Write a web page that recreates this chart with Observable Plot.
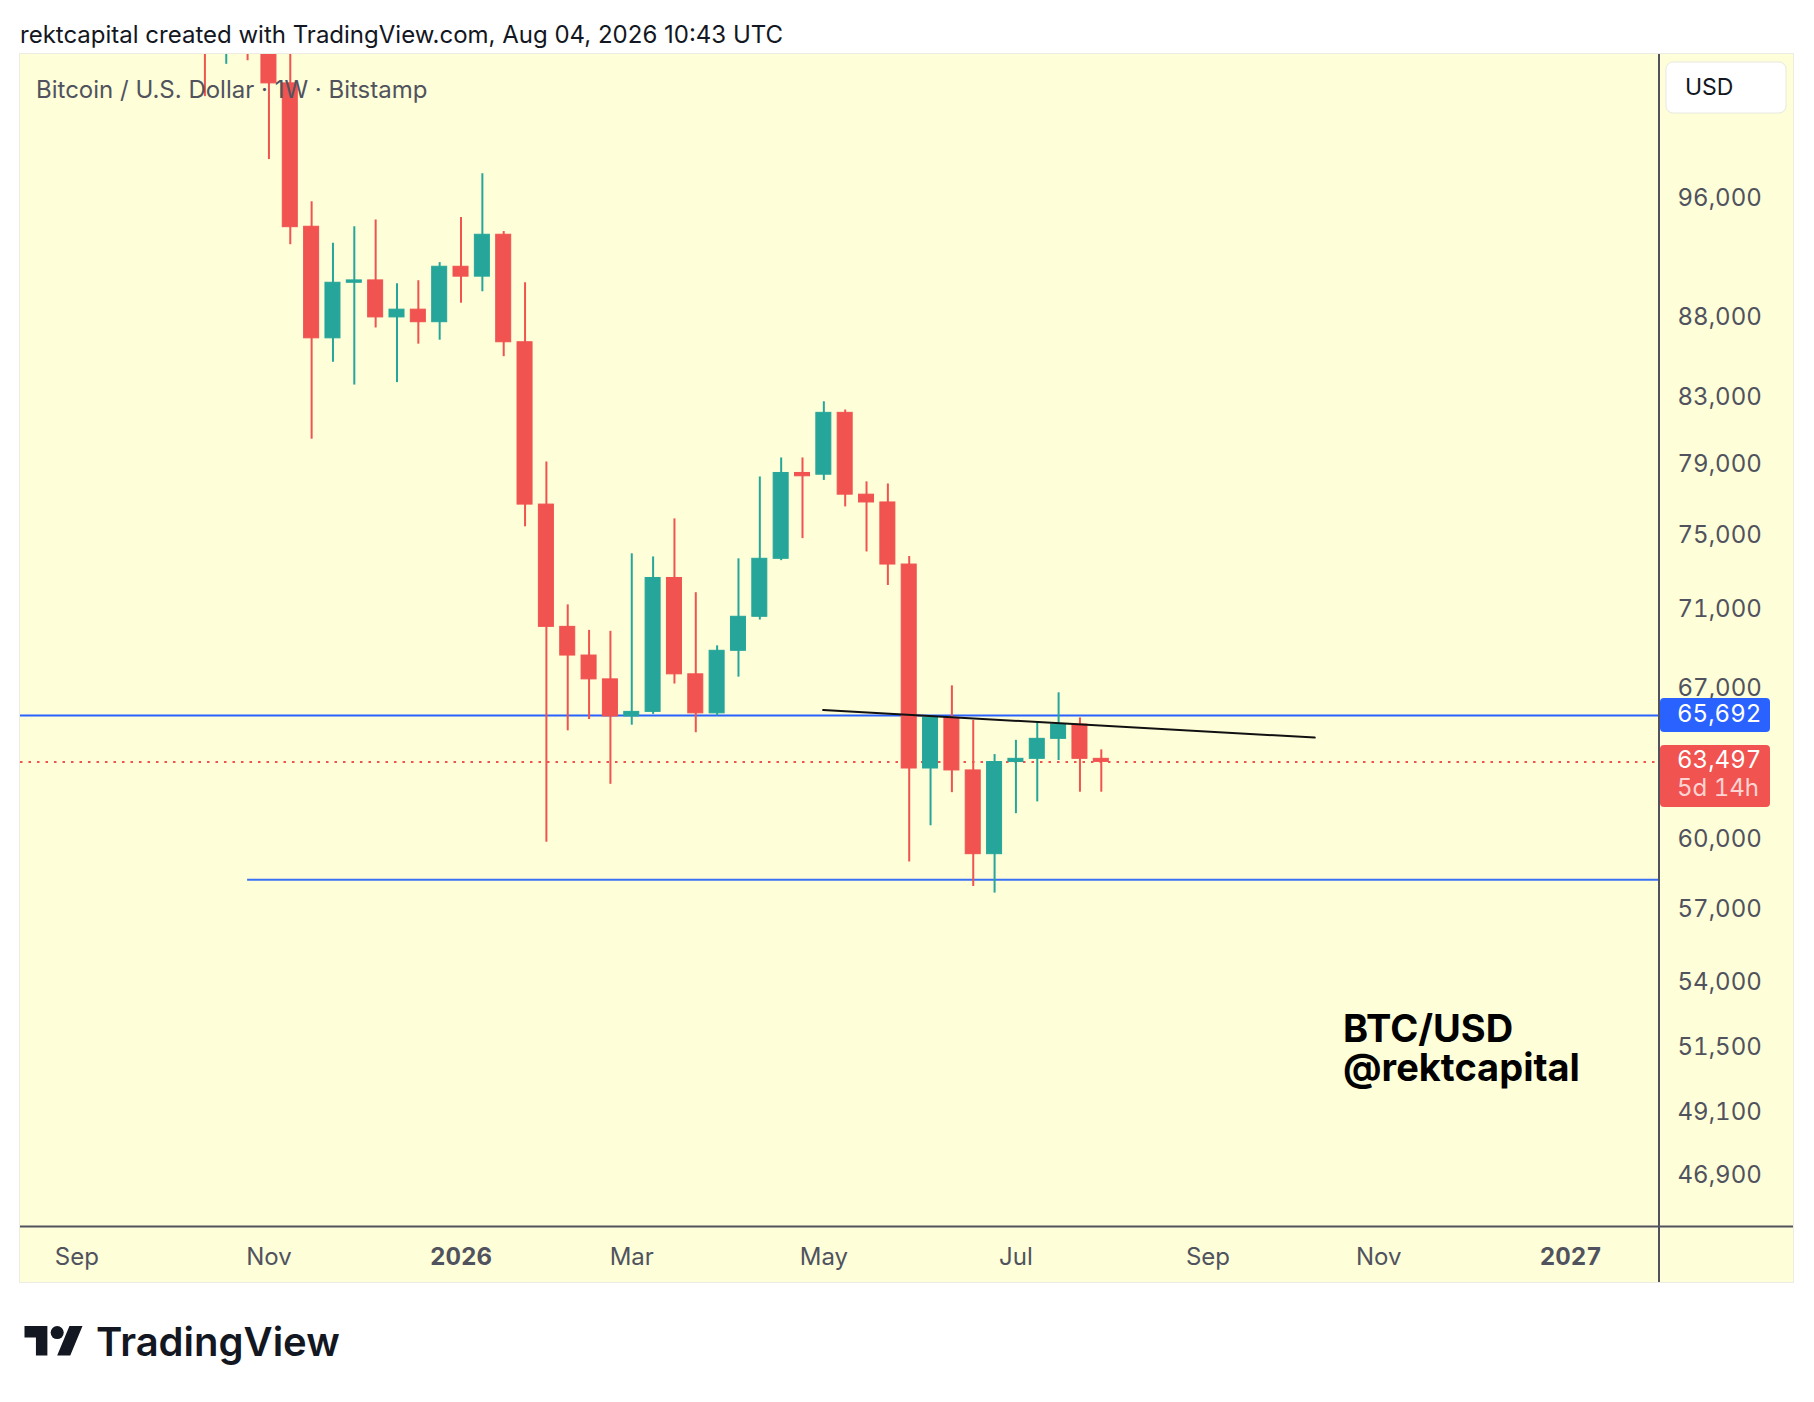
<!DOCTYPE html>
<html>
<head>
<meta charset="utf-8">
<script src="https://cdn.jsdelivr.net/npm/d3@7"></script>
<script src="https://cdn.jsdelivr.net/npm/@observablehq/plot@0.6"></script>
<style>
html, body { margin: 0; padding: 0; background: #ffffff; }
#root { position: relative; width: 1814px; height: 1402px; overflow: hidden; font-family: Inter, "Noto Sans", sans-serif; }
#bg { position: absolute; left: 20px; top: 54px; width: 1773px; height: 1228px; background: #FEFED9; box-shadow: 0 0 0 1px #ECECE4; }
#chart { position: absolute; left: 0; top: 0; }
#overlay { position: absolute; left: 0; top: 0; }
</style>
</head>
<body>
<div id="root">
  <div id="bg"></div>
  <div id="chart"></div>
  <svg id="overlay" width="1814" height="1402"></svg>
</div>
<script>
// ---- Weekly candles (BTC/USD, Bitstamp, 1W) ----
const weeks = [
  "2025-10-13","2025-10-20","2025-10-27","2025-11-03","2025-11-10","2025-11-17","2025-11-24",
  "2025-12-01","2025-12-08","2025-12-15","2025-12-22","2025-12-29","2026-01-05","2026-01-12",
  "2026-01-19","2026-01-26","2026-02-02","2026-02-09","2026-02-16","2026-02-23","2026-03-02",
  "2026-03-09","2026-03-16","2026-03-23","2026-03-30","2026-04-06","2026-04-13","2026-04-20",
  "2026-04-27","2026-05-04","2026-05-11","2026-05-18","2026-05-25","2026-06-01","2026-06-08",
  "2026-06-15","2026-06-22","2026-06-29","2026-07-06","2026-07-13","2026-07-20","2026-07-27",
  "2026-08-03"
];
const opens = [
  115000,108600,114500,110500,104460,94030,86640,
  90245,90400,87980,88480,87670,91310,90650,
  93480,86390,76690,70110,68650,67460,65650,
  65870,72670,67710,65800,68890,70630,73700,
  78490,78390,82030,77250,76810,73390,63190,
  65580,63100,59340,63490,63640,64580,65260,
  63640
];
const highs = [
  115900,115400,116400,110900,107400,95770,92900,
  94030,94500,90180,90380,91590,94670,97760,
  93700,90245,79130,71250,69930,69880,73970,
  73800,75890,71890,69140,73700,78260,79360,
  79360,82700,82200,77980,77860,73820,65640,
  67140,65460,63840,64510,65380,66800,65580,
  64060
];
const lows = [
  103450,105930,106210,98780,92800,80460,85130,
  83720,87300,83870,86270,86520,88900,89650,
  85480,75450,59860,64960,65500,62460,65230,
  65750,67230,64870,65670,67570,70460,73600,
  74800,78060,76560,74070,72270,59000,60590,
  62080,57950,57670,61130,61660,63560,62100,
  62100
];
const closes = [
  108600,114500,110500,104460,94000,86640,90245,
  90400,87980,88480,87670,91310,90650,93480,
  86390,76690,70110,68650,67460,65650,65870,
  72670,67710,65800,68890,70630,73700,78490,
  78300,82030,77250,76810,73390,63190,65580,
  63100,59340,63490,63640,64580,65260,63640,
  63497
];

// ---- Price axis ticks ----
const priceTicks = [96000, 88000, 83000, 79000, 75000, 71000, 67000, 60000, 57000, 54000, 51500, 49100, 46900];

// ---- Time axis ticks ----
const monthTickDates = ["2025-09-01","2025-11-03","2026-03-02","2026-05-04","2026-07-06","2026-09-07","2026-11-02"];
const monthTickLabels = ["Sep","Nov","Mar","May","Jul","Sep","Nov"];
const yearTickDates = ["2026-01-05","2027-01-04"];
const yearTickLabels = ["2026","2027"];

// ---- Drawn levels ----
const resistanceLevel = 65692;
const supportLevel = 58240;
const supportStart = "2025-10-27";
const lastPrice = 63497;
const lastPriceLabel = "63,497";
const countdownLabel = "5d 14h";
const resistanceLabel = "65,692";
const trendDates = ["2026-05-03T18:00", "2026-10-12T00:00"];
const trendPrices = [65960, 64640];

// ---- Visible ranges ----
const xDomain = [new Date(Date.UTC(2025, 7, 13, 12, 23)), new Date(Date.UTC(2027, 1, 2, 2, 0))];
const yDomain = [45156, 106697];

const parse = s => new Date(s.length > 10 ? s + "Z" : s + "T00:00Z");
const TEAL = "#26A69A", RED = "#F05350", BLUE = "#2962FF", BLUE2 = "#3A70F5", AXIS = "#50535E";

const candles = weeks.map((w, i) => ({
  date: parse(w), open: opens[i], high: highs[i], low: lows[i], close: closes[i],
  color: closes[i] >= opens[i] ? TEAL : RED
}));
const trend = trendDates.map((d, i) => ({date: parse(d), price: trendPrices[i]}));
const halfBody = 2.46 * 24 * 3600 * 1000;

const monthMap = new Map(monthTickDates.map((d, i) => [+parse(d), monthTickLabels[i]]));
const yearMap = new Map(yearTickDates.map((d, i) => [+parse(d), yearTickLabels[i]]));

const plot = Plot.plot({
  width: 1814,
  height: 1402,
  marginLeft: 20,
  marginRight: 155,
  marginTop: 54,
  marginBottom: 176,
  style: {background: "transparent", fontFamily: "Inter, 'Noto Sans', sans-serif", fontSize: "24px", overflow: "visible"},
  x: {type: "utc", domain: xDomain, axis: null},
  y: {type: "log", domain: yDomain, axis: null},
  color: {type: "identity"},
  marks: [
    Plot.ruleY([resistanceLevel], {stroke: BLUE, strokeWidth: 2}),
    Plot.ruleY([supportLevel], {x1: parse(supportStart), x2: xDomain[1], stroke: BLUE2, strokeWidth: 2}),
    Plot.ruleY([lastPrice], {stroke: RED, strokeWidth: 2, strokeDasharray: "2.5,6"}),
    Plot.ruleX(candles, {x: "date", y1: "low", y2: "high", stroke: "color", strokeWidth: 2, clip: true}),
    Plot.rect(candles, {
      x1: d => new Date(+d.date - halfBody), x2: d => new Date(+d.date + halfBody),
      y1: "open", y2: "close", fill: "color", stroke: "color", strokeWidth: 1, clip: true
    }),
    Plot.line(trend, {x: "date", y: "price", stroke: "#111111", strokeWidth: 2}),
    Plot.axisY({anchor: "right", ticks: priceTicks, tickSize: 0, tickPadding: 18, label: null,
      tickFormat: d3.format(","), fontSize: 24, color: AXIS}),
    Plot.axisX({anchor: "bottom", ticks: monthTickDates.map(parse), tickSize: 0, tickPadding: 21, label: null,
      tickFormat: d => monthMap.get(+d), fontSize: 24, color: AXIS}),
    Plot.axisX({anchor: "bottom", ticks: yearTickDates.map(parse), tickSize: 0, tickPadding: 21, label: null,
      tickFormat: d => yearMap.get(+d), fontSize: 24, fontWeight: "bold", color: AXIS})
  ]
});
document.getElementById("chart").appendChild(plot);

// ---- Overlay: header, legend, price labels, watermark, logo ----
const ys = plot.scale("y");
const ov = d3.select("#overlay");
const font = "Inter, 'Noto Sans', sans-serif";

// separators
ov.append("line").attr("x1", 1659).attr("x2", 1659).attr("y1", 54).attr("y2", 1282).attr("stroke", AXIS).attr("stroke-width", 2);
ov.append("line").attr("x1", 20).attr("x2", 1793).attr("y1", 1226.5).attr("y2", 1226.5).attr("stroke", AXIS).attr("stroke-width", 2);

ov.append("text").attr("x", 20).attr("y", 43).attr("font-family", font).attr("font-size", 24).attr("fill", "#131722")
  .text("rektcapital created with TradingView.com, Aug 04, 2026 10:43 UTC");
ov.append("text").attr("x", 36).attr("y", 97.5).attr("font-family", font).attr("font-size", 24).attr("fill", AXIS)
  .text("Bitcoin / U.S. Dollar · 1W · Bitstamp");

// USD box
ov.append("rect").attr("x", 1666).attr("y", 62).attr("width", 120).attr("height", 51).attr("rx", 7)
  .attr("fill", "#ffffff").attr("stroke", "#E8E8E0");
ov.append("text").attr("x", 1685).attr("y", 95).attr("font-family", font).attr("font-size", 23).attr("fill", "#131722").text("USD");

// resistance price label
const ry = ys.apply(resistanceLevel);
ov.append("rect").attr("x", 1660).attr("y", ry - 17).attr("width", 110).attr("height", 34).attr("rx", 4).attr("fill", BLUE);
ov.append("text").attr("x", 1677).attr("y", ry + 7).attr("font-family", font).attr("font-size", 24).attr("fill", "#ffffff")
  .style("font-variant-numeric", "tabular-nums").text(resistanceLabel);

// last price label (price and countdown in one text block)
const ly = ys.apply(lastPrice);
ov.append("rect").attr("x", 1660).attr("y", ly - 16.5).attr("width", 110).attr("height", 62).attr("rx", 4).attr("fill", RED);
const lp = ov.append("text").attr("font-family", font).attr("font-size", 24).style("font-variant-numeric", "tabular-nums");
lp.append("tspan").attr("x", 1677).attr("y", ly + 7).attr("fill", "#ffffff").text(lastPriceLabel);
lp.append("tspan").attr("x", 1677).attr("y", ly + 35).attr("fill", "#FFD3D2").text(countdownLabel);

// watermark (two lines in one text block)
const wm = ov.append("text").attr("font-family", font).attr("font-size", 38).attr("font-weight", 700).attr("fill", "#000000");
wm.append("tspan").attr("x", 1343).attr("y", 1042).text("BTC/USD");
wm.append("tspan").attr("x", 1343).attr("y", 1081).text("@rektcapital");

// TradingView logo
const logo = ov.append("g").attr("transform", "translate(24.5,1319.5) scale(1.634)").attr("fill", "#131722");
logo.append("path").attr("d", "M14 22H7V11H0V4h14v18zM28 22h-8l7.5-18h8L28 22z");
logo.append("circle").attr("cx", 20).attr("cy", 8).attr("r", 4);
ov.append("text").attr("x", 96).attr("y", 1356).attr("font-family", font).attr("font-size", 40).attr("font-weight", 600)
  .attr("fill", "#131722").text("TradingView");
</script>
</body>
</html>
